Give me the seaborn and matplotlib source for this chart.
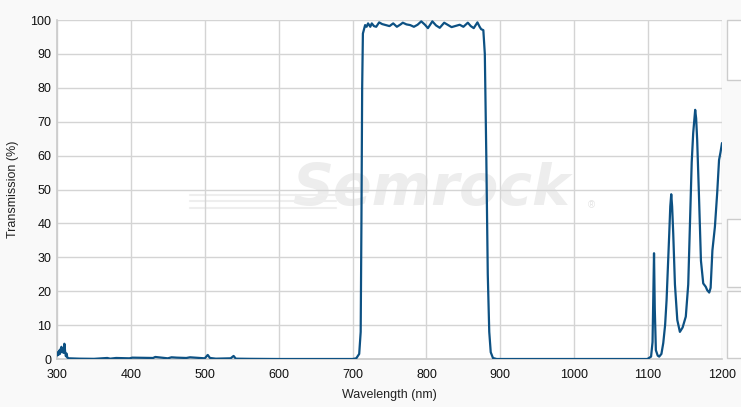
import numpy as np
import pandas as pd
import matplotlib
matplotlib.use("Agg")
import matplotlib.pyplot as plt
import seaborn as sns
from matplotlib.patches import Rectangle

# 透射光谱数据
wavelength = [300, 301, 302, 303, 304, 305, 306, 307, 308, 309, 310, 311, 312, 313, 314, 316,
              330, 350, 368, 372, 380, 398, 402, 430, 433, 450, 455, 462, 475, 480, 500, 504,
              507, 515, 535, 539, 542, 560, 600, 650, 700, 705, 709, 711, 712, 713, 714,
              717, 719, 721, 724, 726, 729, 732, 736, 740, 745, 750, 755, 760, 765, 768,
              773, 778, 783, 788, 793, 798, 802, 808, 813, 818, 824, 830, 834, 840, 845,
              850, 856, 860, 864, 869, 872, 874, 877, 879, 881, 883, 885, 887, 890, 895,
              950, 1000, 1050, 1099, 1104, 1106, 1107, 1108, 1109, 1110.5, 1113, 1115,
              1118, 1120.5, 1123, 1125, 1127, 1128.6, 1130, 1131.3, 1132.5, 1134, 1136.3,
              1139.5, 1143, 1146.7, 1151, 1154.3, 1156, 1157.5, 1159, 1161, 1163.7, 1165,
              1166.4, 1169, 1171.5, 1174.6, 1178, 1180, 1182.7, 1184.6, 1187, 1190.4,
              1193.5, 1196, 1198, 1200]
transmission = [1.0, 2.0, 1.2, 2.5, 1.5, 3.0, 3.6, 2.0, 3.2, 1.8, 4.5, 2.2, 0.8, 1.6, 0.4, 0.2,
                0.1, 0.05, 0.3, 0.1, 0.3, 0.2, 0.4, 0.3, 0.6, 0.2, 0.5, 0.4, 0.3, 0.5, 0.2, 1.2,
                0.3, 0.1, 0.2, 0.9, 0.1, 0.05, 0.0, 0.0, 0.0, 0.2, 1.5, 8, 40, 80, 96,
                98.5, 98.0, 99.0, 98.0, 99.0, 98.2, 98.0, 99.3, 98.8, 98.5, 98.2, 99.0, 98.0, 98.7, 99.2,
                98.7, 98.5, 98.0, 98.6, 99.6, 98.6, 97.6, 99.6, 98.4, 97.7, 99.2, 98.4, 97.9, 98.3, 98.6,
                98.0, 99.2, 98.2, 97.6, 99.3, 98.0, 97.3, 97.0, 90, 60, 25, 8, 2, 0.3, 0.0,
                0.0, 0.0, 0.0, 0.0, 0.7, 5, 18, 31.2, 15, 2.6, 1.0, 0.7,
                1.5, 4.7, 10, 17.4, 28, 37, 45, 48.6, 45, 37, 22,
                11.5, 8.0, 9.3, 12.5, 22, 35, 47, 58, 66.6, 73.5, 71,
                64.6, 47, 29, 22.3, 21.3, 20.3, 19.6, 21, 32, 39,
                49, 58.7, 61, 63.7]

df = pd.DataFrame({"Wavelength": wavelength, "Transmission": transmission})

sns.set_theme(style="whitegrid")
plt.rcParams['font.family'] = ['Liberation Sans', 'DejaVu Sans']

fig = plt.figure(figsize=(7.41, 4.07), dpi=100)
fig.patch.set_facecolor("#f9f9f9")
ax = fig.add_axes([57 / 741, 1 - 359 / 407, 665 / 741, 339 / 407])
ax.set_facecolor("white")

# 水印
ax.text(0.563, 0.50, "Semrock", transform=ax.transAxes, fontsize=41, fontweight="bold",
        fontstyle="italic", color="#ededed", ha="center", va="center", zorder=0,
        family=["DejaVu Sans"])
ax.text(0.803, 0.455, "®", transform=ax.transAxes, fontsize=7, color="#e3e3e3",
        ha="center", va="center", zorder=0)
for yy in (0.445, 0.465, 0.485):
    ax.plot([0.20, 0.42], [yy, yy], transform=ax.transAxes, color="#eeeeee", lw=1.5, zorder=0)

sns.lineplot(data=df, x="Wavelength", y="Transmission", ax=ax, color="#0d5183",
             linewidth=1.6, zorder=3)

ax.set_xlim(300, 1200)
ax.set_ylim(0, 100)
ax.set_xticks(range(300, 1201, 100))
ax.set_yticks(range(0, 101, 10))
ax.grid(True, color="#d4d4d4", linewidth=1)
for s in ax.spines.values():
    s.set_visible(False)
ax.spines["left"].set_visible(True)
ax.spines["left"].set_color("#cccccc")
ax.spines["bottom"].set_visible(True)
ax.spines["bottom"].set_color("#cccccc")
ax.tick_params(axis="both", length=0, labelsize=9, colors="#111111")
ax.tick_params(axis="x", pad=7)
ax.tick_params(axis="y", pad=4)
ax.set_xlabel("Wavelength (nm)", fontsize=9, color="#222222", labelpad=6)
ax.set_ylabel("Transmission (%)", fontsize=9, color="#222222", labelpad=8)

# 右侧面板
for y0, y1 in ((20, 80), (219, 287), (291, 358)):
    fig.patches.append(Rectangle((727 / 741, 1 - y1 / 407), 20 / 741, (y1 - y0) / 407,
                                 transform=fig.transFigure, facecolor="white",
                                 edgecolor="#cccccc", linewidth=1))

fig.savefig("out.png", dpi=100, facecolor=fig.get_facecolor())
